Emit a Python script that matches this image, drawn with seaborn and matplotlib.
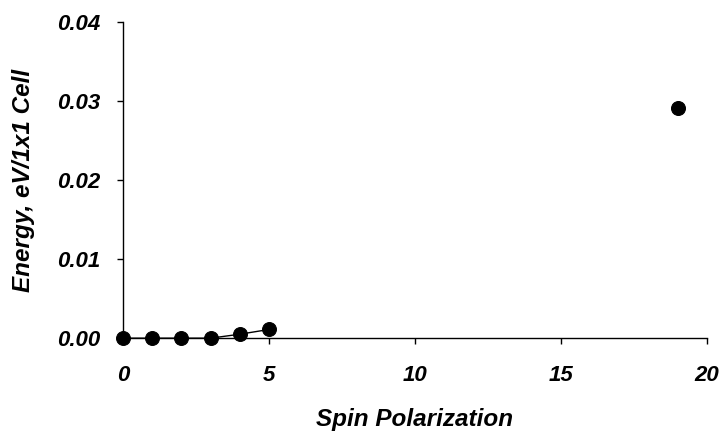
import matplotlib
matplotlib.use("Agg")
import matplotlib.pyplot as plt
import seaborn as sns
import pandas as pd

sns.set_theme(style="white")
plt.rcParams['font.family'] = ['Liberation Sans', 'DejaVu Sans']
plt.rcParams['text.color'] = 'black'
plt.rcParams['axes.labelcolor'] = 'black'
plt.rcParams['xtick.color'] = 'black'
plt.rcParams['ytick.color'] = 'black'

line_x = [0, 1, 2, 3, 4, 5]
line_y = [0.0, 0.0, 0.0, 0.0, 0.0005, 0.0011]
iso_x = [19]
iso_y = [0.0291]
xticks = [0, 5, 10, 15, 20]
yticks = [0.00, 0.01, 0.02, 0.03, 0.04]

fig = plt.figure(figsize=(7.23, 4.33), dpi=100)
ax = fig.add_axes([0.170, 0.219, 0.808, 0.730])

df_line = pd.DataFrame({"x": line_x, "y": line_y})
df_iso = pd.DataFrame({"x": iso_x, "y": iso_y})
sns.lineplot(data=df_line, x="x", y="y", ax=ax, color="black", linewidth=1.0,
             marker="o", markersize=10, markeredgecolor="black", clip_on=False)
sns.scatterplot(data=df_iso, x="x", y="y", ax=ax, color="black", s=100,
                edgecolor="black", clip_on=False)

ax.set_xlim(0, 20)
ax.set_ylim(0, 0.04)
ax.set_xticks(xticks)
ax.set_yticks(yticks)
ax.set_xticklabels([str(t) for t in xticks])
ax.set_yticklabels([f"{t:.2f}" for t in yticks])
for s in ["top", "right"]:
    ax.spines[s].set_visible(False)
for s in ["left", "bottom"]:
    ax.spines[s].set_color("black")
    ax.spines[s].set_linewidth(1.0)
ax.tick_params(axis="both", direction="out", length=4.5, width=1, color="black",
               bottom=True, left=True, labelsize=16, labelcolor="black")
ax.tick_params(axis="y", pad=12)
ax.tick_params(axis="x", pad=15)
for lab in ax.get_xticklabels() + ax.get_yticklabels():
    lab.set_fontweight("bold")
    lab.set_fontstyle("italic")
ax.set_xlabel("Spin Polarization", fontsize=17.5, fontweight="bold", fontstyle="italic", labelpad=16, color="black")
ax.set_ylabel("Energy, eV/1x1 Cell", fontsize=17.5, fontweight="bold", fontstyle="italic", labelpad=16, color="black")
ax.grid(False)
fig.savefig("out.png", dpi=100)
